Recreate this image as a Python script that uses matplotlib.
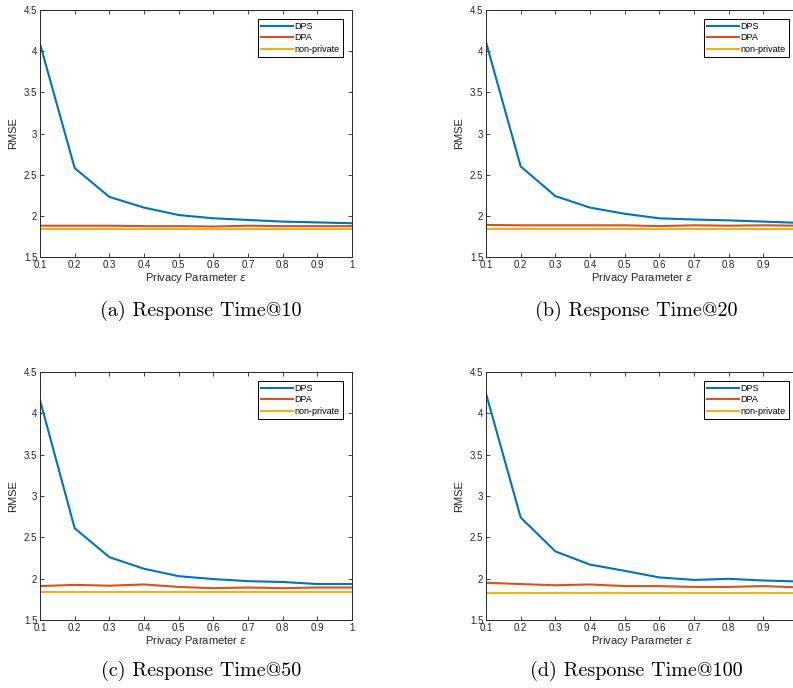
import matplotlib
matplotlib.use("Agg")
import matplotlib.pyplot as plt

eps = [0.1, 0.2, 0.3, 0.4, 0.5, 0.6, 0.7, 0.8, 0.9, 1.0]

dps_10 = [4.09, 2.58, 2.23, 2.10, 2.01, 1.97, 1.95, 1.93, 1.92, 1.91]
dpa_10 = [1.88, 1.88, 1.88, 1.875, 1.875, 1.87, 1.88, 1.875, 1.875, 1.875]
np_10 = [1.835] * 10

dps_20 = [4.11, 2.60, 2.24, 2.10, 2.025, 1.97, 1.955, 1.945, 1.93, 1.915]
dpa_20 = [1.89, 1.885, 1.885, 1.885, 1.885, 1.875, 1.885, 1.88, 1.885, 1.88]
np_20 = [1.84] * 10

dps_50 = [4.16, 2.61, 2.26, 2.12, 2.03, 1.995, 1.97, 1.96, 1.935, 1.935]
dpa_50 = [1.91, 1.925, 1.915, 1.93, 1.90, 1.885, 1.893, 1.885, 1.893, 1.893]
np_50 = [1.836] * 10

dps_100 = [4.24, 2.74, 2.33, 2.17, 2.095, 2.015, 1.985, 1.998, 1.978, 1.966]
dpa_100 = [1.95, 1.935, 1.92, 1.93, 1.91, 1.91, 1.90, 1.90, 1.91, 1.895]
np_100 = [1.824] * 10

xtick_labels = ["0.1", "0.2", "0.3", "0.4", "0.5", "0.6", "0.7", "0.8", "0.9", "1"]
yticks = [1.5, 2, 2.5, 3, 3.5, 4, 4.5]
ytick_labels = ["1.5", "2", "2.5", "3", "3.5", "4", "4.5"]

panels = [
    ("(a) Response Time@10", dps_10, dpa_10, np_10),
    ("(b) Response Time@20", dps_20, dpa_20, np_20),
    ("(c) Response Time@50", dps_50, dpa_50, np_50),
    ("(d) Response Time@100", dps_100, dpa_100, np_100),
]

# MATLAB default colours
colors = ["#0072BD", "#D95319", "#EDB120"]
labels = ["DPS", "DPA", "non-private"]

W, H = 793, 688
fig = plt.figure(figsize=(W / 100, H / 100), dpi=100)

# axes boxes in pixels: left, top, right, bottom (right column runs past the page edge)
boxes = [(40, 10, 352, 257), (486, 10, 798, 257),
         (40, 372, 352, 620), (486, 372, 798, 620)]
caption_pos = [(201, 311), (636, 311), (201, 671), (636, 671)]

axis_col = "#262626"
sans = ["Liberation Sans", "DejaVu Sans"]

for i, ((cap, dps, dpa, nonp), (l, t, r, b), (cx, cy)) in enumerate(zip(panels, boxes, caption_pos)):
    ax = fig.add_axes([l / W, 1 - b / H, (r - l) / W, (b - t) / H])
    ax.plot(eps, dps, color=colors[0], lw=1.5, label=labels[0])
    ax.plot(eps, dpa, color=colors[1], lw=1.5, label=labels[1])
    ax.plot(eps, nonp, color=colors[2], lw=1.5, label=labels[2])
    ax.set_xlim(0.1, 1.0)
    ax.set_ylim(1.5, 4.5)
    ax.set_xticks(eps)
    xl = list(xtick_labels)
    if i % 2 == 1:
        xl[-1] = ""  # cut off by the page edge in the original
    ax.set_xticklabels(xl)
    ax.set_yticks(yticks)
    ax.set_yticklabels(ytick_labels)
    ax.tick_params(direction="in", top=True, right=True, length=3, width=0.6,
                   colors=axis_col, labelsize=7, pad=2)
    for lab in ax.get_xticklabels() + ax.get_yticklabels():
        lab.set_family(sans)
    for sp in ax.spines.values():
        sp.set_color(axis_col)
        sp.set_linewidth(0.7)
    ax.set_xlabel("Privacy Parameter $\\epsilon$", fontsize=8, family=sans,
                  color=axis_col, labelpad=1)
    ax.set_ylabel("RMSE", fontsize=8, family=sans, color=axis_col, labelpad=4)
    leg = ax.legend(loc="upper right", handlelength=3.6,
                    handletextpad=0.15, borderpad=0.35, labelspacing=0.25,
                    fancybox=False, framealpha=1, borderaxespad=1.0,
                    prop={"family": sans, "size": 6.5})
    leg.get_frame().set_edgecolor("black")
    leg.get_frame().set_linewidth(0.7)
    fig.text(cx / W, 1 - cy / H, cap, ha="center", va="center",
             fontsize=14.5, family=["cmr10", "DejaVu Serif"])

fig.savefig("out.png", dpi=100)
